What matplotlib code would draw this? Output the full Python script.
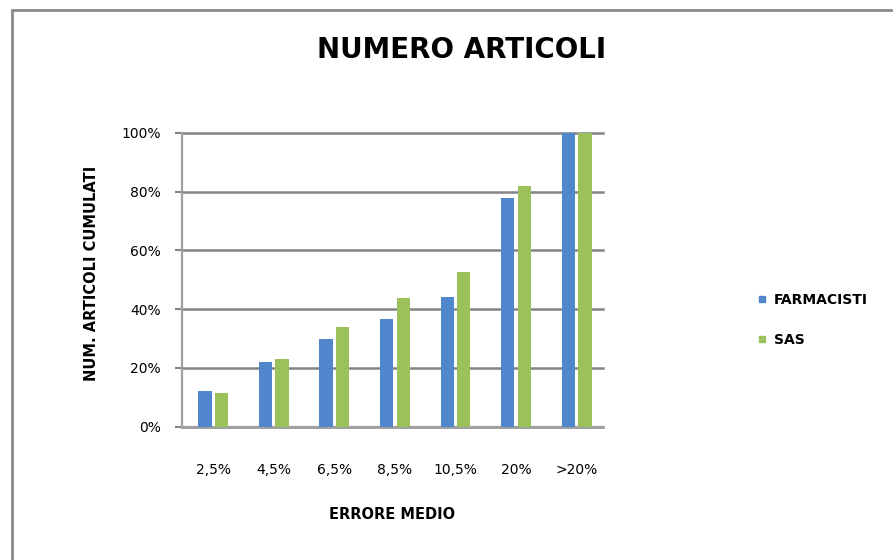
import matplotlib

matplotlib.use("Agg")
import matplotlib.pyplot as plt
import numpy as np
from matplotlib.lines import Line2D
from matplotlib.patches import Rectangle

categories = ["2,5%", "4,5%", "6,5%", "8,5%", "10,5%", "20%", ">20%"]
farmacisti = [12.1, 22.1, 29.8, 36.6, 44.2, 77.7, 100.0]
sas = [11.5, 23.0, 34.0, 43.9, 52.5, 82.0, 100.0]
y_ticks = [0, 20, 40, 60, 80, 100]
y_tick_labels = ["0%", "20%", "40%", "60%", "80%", "100%"]

BLUE = "#5086cb"
GREEN = "#9bc15a"
GRID = "#848484"

plt.rcParams["font.family"] = ["DejaVu Sans"]

fig = plt.figure(figsize=(8.93, 5.60), dpi=100)
ax = fig.add_axes([181.7 / 893, 133.3 / 560, 421 / 893, 294 / 560])

x = np.arange(len(categories))
width = 0.22
ax.bar(x - 0.137, farmacisti, width, color=BLUE, zorder=3, label="FARMACISTI")
ax.bar(x + 0.137, sas, width, color=GREEN, zorder=3, label="SAS")

ax.set_xlim(-0.52, 6.43)
ax.set_ylim(0, 100)
ax.set_yticks(y_ticks)
ax.set_yticklabels(y_tick_labels, fontsize=10, color="black")
ax.set_xticks(x)
ax.set_xticklabels(categories, fontsize=10, color="black")
ax.tick_params(axis="y", length=5, width=1.5, color=GRID, pad=10)
ax.tick_params(axis="x", length=0, pad=26)
ax.yaxis.grid(True, color=GRID, linewidth=1.8, zorder=0)
for gl in ax.get_ygridlines():
    gl.set_clip_on(False)

for side in ["top", "right"]:
    ax.spines[side].set_visible(False)
for side in ["left", "bottom"]:
    ax.spines[side].set_color("#a0a0a0")
    ax.spines[side].set_linewidth(1.6)

ax.set_xlabel("ERRORE MEDIO", fontsize=10.5, fontweight="bold", labelpad=22)
fig.text(91.7 / 893, 1 - 273.5 / 560, "NUM. ARTICOLI CUMULATI", rotation=90,
         ha="center", va="center", fontsize=10.5, fontweight="bold")
fig.text(461.5 / 893, 1 - 50 / 560, "NUMERO ARTICOLI", ha="center", va="center",
         fontsize=20, fontweight="bold")

handles = [
    Line2D([], [], marker="s", linestyle="none", markersize=4, color=BLUE),
    Line2D([], [], marker="s", linestyle="none", markersize=4, color=GREEN),
]
fig.legend(handles, ["FARMACISTI", "SAS"], loc="center left",
           bbox_to_anchor=(745 / 893, 1 - 320 / 560), frameon=False,
           prop={"size": 10, "weight": "bold"}, handlelength=0.6,
           handletextpad=0.6, labelspacing=1.9)

# chart border, only top and left edges are visible in the crop
fig.patches.append(Rectangle((12 / 893, -0.1), 1.0, 1 - 10 / 560 + 0.1,
                             transform=fig.transFigure, fill=False,
                             edgecolor="#8a8a8a", linewidth=2))

fig.savefig("out.png", dpi=100)
plt.close(fig)
